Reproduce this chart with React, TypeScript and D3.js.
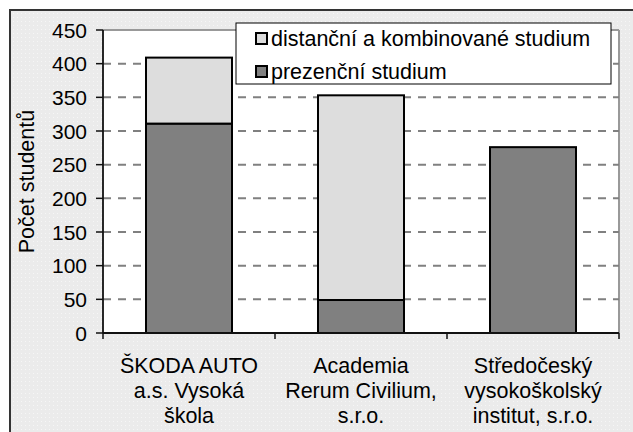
import React from "react";
import * as d3 from "d3";

const categories: string[][] = [
  ["ŠKODA AUTO", "a.s. Vysoká", "škola"],
  ["Academia", "Rerum Civilium,", "s.r.o."],
  ["Středočeský", "vysokoškolský", "institut, s.r.o."],
];
const prezencni: number[] = [311, 49, 276];
const distancni: number[] = [98, 304, 0];
const yTicks: number[] = [0, 50, 100, 150, 200, 250, 300, 350, 400, 450];
const seriesNames: string[] = ["distanční a kombinované studium", "prezenční studium"];
const yTitle = "Počet studentů";

const W = 633;
const H = 432;
const FONT = "'Liberation Sans', Arial, sans-serif";

export default function App() {
  const left = 103, right = 619, top = 30, bottom = 333;
  const x = d3.scaleBand<number>().domain([0, 1, 2]).range([left, right]).paddingInner(0.5).paddingOuter(0.25);
  const y = d3.scaleLinear().domain([0, 450]).range([bottom, top]);
  const stack = d3.stack<number>().keys(["p", "d"]).value((i, k) => (k === "p" ? prezencni[i] : distancni[i]));
  const series = stack([0, 1, 2]);
  const fills: Record<string, string> = { p: "#808080", d: "#dddddd" };
  const step = x.step();
  const boundaries = [0, 1, 2, 3].map((i) => left + i * step);

  return (
    <svg width={W} height={H} style={{ position: "absolute", left: 0, top: 0 }} fontFamily={FONT}>
      <defs>
        <pattern id="dots" width="4" height="4" patternUnits="userSpaceOnUse">
          <rect width="4" height="4" fill="#ebebeb" />
          <rect x="1" y="1" width="1" height="1" fill="#f6f6f6" />
        </pattern>
      </defs>
      <rect x={0} y={0} width={W} height={H} fill="#ffffff" />
      <rect x={10} y={10} width={W + 20} height={H + 20} fill="url(#dots)" stroke="#333" strokeWidth={2} />
      {/* plot area */}
      <rect x={left} y={top} width={right - left} height={bottom - top} fill="#ffffff" />
      <line x1={left} x2={right} y1={top} y2={top} stroke="#999" strokeWidth={2} />
      <line x1={right} x2={right} y1={top} y2={bottom} stroke="#999" strokeWidth={2} />
      {/* gridlines */}
      {yTicks.filter((t) => t > 0 && t < 450).map((t) => (
        <line key={t} x1={left} x2={right} y1={y(t)} y2={y(t)} stroke="#808080" strokeWidth={2} strokeDasharray="8,7" />
      ))}
      {/* bars */}
      {series.map((s) =>
        s.map((d, i) =>
          d[1] - d[0] > 0 ? (
            <rect key={s.key + i} x={x(i)} y={y(d[1])} width={x.bandwidth()} height={y(d[0]) - y(d[1])}
              fill={fills[s.key]} stroke="#000" strokeWidth={2} />
          ) : null
        )
      )}
      {/* axes */}
      <line x1={left} x2={left} y1={top} y2={bottom} stroke="#111" strokeWidth={1.8} />
      <line x1={left} x2={right} y1={bottom} y2={bottom} stroke="#111" strokeWidth={1.8} />
      {yTicks.map((t) => (
        <g key={t}>
          <line x1={left - 7} x2={left} y1={y(t)} y2={y(t)} stroke="#111" strokeWidth={1.5} />
          <text x={87} y={y(t)} dy="0.36em" textAnchor="end" fontSize={21} fill="#000">{t}</text>
        </g>
      ))}
      {boundaries.map((b, i) => (
        <line key={i} x1={b} x2={b} y1={bottom} y2={bottom + 6} stroke="#111" strokeWidth={1.5} />
      ))}
      {categories.map((lines, i) => (
        <text key={i} textAnchor="middle" fontSize={21.5} fill="#000">
          {lines.map((l, j) => (
            <tspan key={j} x={(x(i) as number) + x.bandwidth() / 2} y={373 + j * 25}>{l}</tspan>
          ))}
        </text>
      ))}
      <text transform={`translate(34,${(top + bottom) / 2}) rotate(-90)`} textAnchor="middle" fontSize={21.5} fill="#000">{yTitle}</text>
      {/* legend */}
      <rect x={236} y={23} width={375} height={61} fill="#fff" stroke="#000" strokeWidth={1} />
      {seriesNames.map((n, i) => (
        <g key={n}>
          <rect x={256} y={33 + i * 33} width={11} height={11} fill={i === 0 ? fills.d : fills.p} stroke="#000" strokeWidth={2} />
          <text x={271} y={46 + i * 33} fontSize={21.5} fill="#000">{n}</text>
        </g>
      ))}
    </svg>
  );
}
